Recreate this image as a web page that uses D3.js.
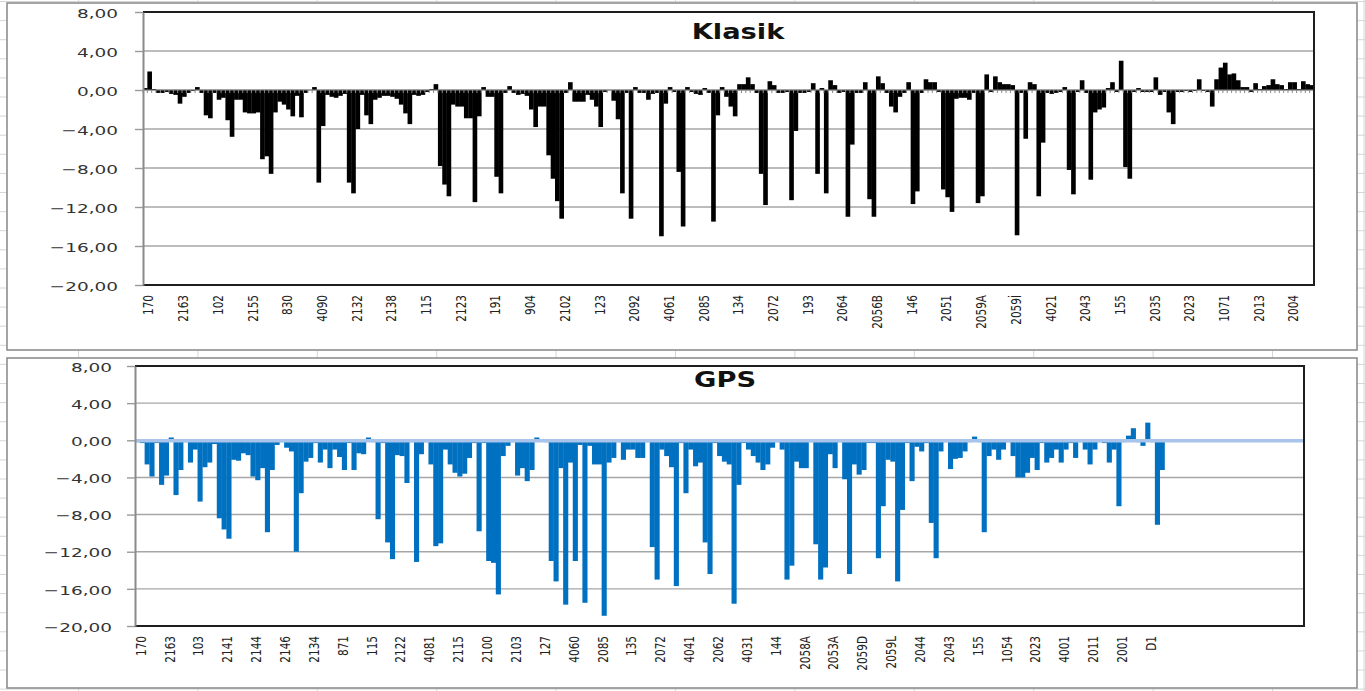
<!DOCTYPE html>
<head>
  <title>Klasik / GPS</title>
  <meta charset="utf-8">
  <script src="https://d3js.org/d3.v7.min.js"></script>
  <style>
    body { margin: 0; background: #fff; }
    svg { display: block; font-family: "DejaVu Sans", Verdana, sans-serif; }
    .sheet { stroke: #d6d6d6; stroke-width: 1; }
    .chartarea { fill: #fff; stroke: #8e8e8e; stroke-width: 1.6; }
    .grid { stroke: #a6a6a6; stroke-width: 1.4; }
    .frame { stroke: #1e1e1e; stroke-width: 2; }
    .ylab { font-size: 13px; fill: #333; }
    .xlab { font-size: 10.5px; fill: #222; }
    .title { font-size: 21px; font-weight: bold; fill: #111; }
  </style>
</head>
<body>

<svg width="1365" height="691"></svg>

<script>

// Klasik series, one value per station (270 stations)
var klasikValues = [
  0.2, 1.9, 0.1, -0.3, -0.3, -0.2, -0.4, -0.5, -1.4, -0.7,
  -0.3, -0.1, 0.3, -0.3, -2.6, -2.9, -0.3, -1.0, -0.8, -3.1,
  -4.8, -1.0, -1.0, -2.3, -2.4, -2.4, -2.3, -7.1, -6.8, -8.6,
  -2.3, -1.2, -1.5, -2.0, -2.7, -0.6, -2.8, -0.3, 0.0, 0.3,
  -9.5, -3.7, -0.5, -0.7, -0.8, -0.6, -0.4, -9.5, -10.6, -4.0,
  -0.5, -2.6, -3.5, -1.0, -0.8, -0.6, -0.6, -0.7, -0.9, -1.5,
  -2.4, -3.5, -0.5, -0.6, -0.5, -0.2, 0.1, 0.6, -7.8, -9.7,
  -10.9, -1.5, -1.7, -1.7, -2.9, -2.9, -11.5, -2.7, 0.3, -0.7,
  -0.7, -8.9, -10.6, -0.3, 0.4, -0.3, -0.5, -0.4, -0.6, -2.0,
  -3.8, -1.7, -1.7, -6.7, -9.1, -11.4, -13.2, -0.3, 0.8, -1.2,
  -1.2, -1.2, -0.5, -1.0, -1.7, -3.8, -0.2, 0.0, -1.1, -3.0,
  -10.6, -0.3, -13.2, 0.3, -0.3, -0.3, -1.0, -0.4, -0.3, -15.0,
  -1.4, 0.3, -0.2, -8.4, -14.0, 0.3, -0.2, -0.4, -0.5, 0.2,
  -0.3, -13.5, -2.6, 0.3, -0.7, -1.7, -2.7, 0.6, 0.6, 1.3,
  0.6, -0.3, -8.6, -11.8, 0.9, 0.5, -0.3, -0.3, -0.2, -11.3,
  -4.2, -0.3, -0.3, -0.2, 0.7, -8.6, 0.2, -10.6, 1.0, 0.5,
  -0.3, -0.2, -13.0, -5.6, -0.3, -0.3, 0.8, -11.2, -13.0, 1.4,
  0.7, -0.3, -1.7, -2.3, -0.7, -0.3, 0.8, -11.7, -10.4, -0.3,
  1.1, 0.8, 0.8, -0.2, -10.2, -11.0, -12.5, -0.9, -0.8, -0.8,
  -1.0, -0.3, -11.6, -10.9, 1.6, -0.2, 1.4, 0.8, 0.6, 0.6,
  0.5, -14.9, -0.3, -5.0, 0.8, 0.6, -10.9, -5.4, -0.3, -0.4,
  -0.3, -0.2, 0.3, -8.2, -10.7, -0.2, 1.0, -0.3, -9.2, -2.3,
  -2.0, -1.8, 0.2, 0.8, -0.2, 3.0, -7.9, -9.1, -0.2, 0.2,
  -0.2, -0.2, -0.2, 1.3, -0.5, -0.2, -2.3, -3.5, -0.2, -0.2,
  -0.1, -0.2, -0.1, 1.1, -0.1, -0.2, -1.7, 1.1, 2.3, 2.8,
  1.6, 1.7, 1.0, 0.3, 0.3, -0.2, 0.7, 0.1, 0.4, 0.5,
  1.1, 0.6, 0.5, 0.1, 0.8, 0.8, 0.1, 0.9, 0.6, 0.5
];

// GPS series (243 categories, the last ones are empty)
var gpsValues = [
  -0.2, -0.3, -2.6, -3.9, -0.3, -4.8, -3.8, 0.3, -5.9, -3.2,
  -0.2, -2.4, -1.0, -6.6, -2.9, -2.4, -0.4, -8.4, -9.6, -10.6,
  -2.1, -2.2, -1.4, -1.6, -3.9, -4.3, -3.0, -9.9, -3.2, -0.5,
  -0.2, -0.8, -1.2, -12.0, -5.7, -2.3, -1.9, -0.3, -2.4, -1.0,
  -3.0, -1.0, -1.8, -3.2, -0.3, -3.2, -1.4, -1.5, 0.3, -0.2,
  -8.5, -0.3, -11.0, -12.8, -1.6, -1.7, -4.6, -0.2, -13.1, -1.5,
  -0.2, -2.6, -11.4, -11.1, -1.0, -2.6, -3.5, -3.9, -3.6, -1.9,
  -0.3, -9.8, -0.3, -13.0, -13.2, -16.6, -1.7, -0.6, -0.2, -3.8,
  -3.0, -4.4, -3.2, 0.3, -0.1, -0.2, -13.0, -15.2, -3.0, -17.7,
  -2.4, -13.0, -0.5, -17.5, -0.6, -2.6, -2.6, -18.9, -2.4, -1.9,
  -0.2, -2.1, -1.0, -1.0, -1.9, -1.9, -0.2, -11.5, -15.0, -1.0,
  -1.7, -2.9, -15.7, -0.3, -5.7, -1.0, -2.8, -2.4, -11.0, -14.4,
  -0.3, -1.7, -2.3, -2.6, -17.6, -4.8, -0.3, -1.0, -1.7, -2.4,
  -3.2, -2.6, -0.8, -0.2, -1.0, -15.0, -13.5, -2.3, -3.0, -3.0,
  -0.2, -11.2, -15.0, -13.7, -1.5, -3.0, -0.2, -4.2, -14.4, -2.6,
  -3.7, -3.2, -0.3, -0.3, -12.7, -7.1, -2.1, -2.3, -15.2, -7.5,
  -0.3, -4.4, -0.7, -1.2, -0.3, -8.9, -12.7, -1.2, -0.2, -3.1,
  -2.0, -1.9, -1.2, -0.2, 0.4, -0.2, -9.9, -1.7, -1.0, -2.1,
  -1.0, -0.2, -1.7, -4.0, -4.0, -3.5, -1.9, -3.2, -0.3, -2.4,
  -1.9, -1.0, -2.4, -1.0, -0.3, -1.9, -0.2, -1.0, -2.6, -1.0,
  -0.2, -0.3, -2.4, -1.0, -7.1, -0.2, 0.5, 1.3, -0.2, -0.6,
  1.9, -0.2, -9.1, -3.2,
  null, null, null, null, null, null, null, null, null, null,
  null, null, null, null, null, null, null, null, null, null,
  null, null, null, null, null, null, null, null, null
];

// station names shown under each axis (every 8th / 6th category)
var klasikLabels = ['170', '2163', '102', '2155', '830', '4090', '2132', '2138', '115', '2123',
  '191', '904', '2102', '123', '2092', '4061', '2085', '134', '2072', '193',
  '2064', '2056B', '146', '2051', '2059A', '2059İ', '4021', '2043', '155', '2035',
  '2023', '1071', '2013', '2004'];

var gpsLabels = ['170', '2163', '103', '2141', '2144', '2146', '2134', '871', '115', '2122',
  '4081', '2115', '2100', '2103', '127', '4060', '2085', '135', '2072', '4041',
  '2062', '4031', '144', '2058A', '2053A', '2059D', '2059L', '2044', '2043', '155',
  '1054', '2023', '4001', '2011', '2001', 'D1'];

var yTicks = [8, 4, 0, -4, -8, -12, -16, -20];

var svg = d3.select('svg');

// worksheet cells behind the chart objects
svg.selectAll('.col').data(d3.range(78.5, 1365, 119.4)).enter().append('line')
  .attr('class', 'sheet').attr('x1', function(d) { return d; }).attr('x2', function(d) { return d; })
  .attr('y1', 0).attr('y2', 691);
svg.append('line').attr('class', 'sheet').attr('x1', 1364).attr('x2', 1364).attr('y1', 0).attr('y2', 691);
svg.selectAll('.row').data(d3.range(1.5, 691, 19.1)).enter().append('line')
  .attr('class', 'sheet').attr('y1', function(d) { return d; }).attr('y2', function(d) { return d; })
  .attr('x1', 0).attr('x2', 1365);

var fmt = function(d) { return d3.format('.2f')(d).replace('.', ','); };

var panels = [
  { title: 'Klasik', values: klasikValues, labels: klasikLabels, every: 8, color: '#000',
    area: [7, 3, 1350, 347], plot: { l: 143, r: 1314, t: 12, b: 285 },
    labRight: 118, titleX: 738, titleY: 39, band: false },
  { title: 'GPS', values: gpsValues, labels: gpsLabels, every: 6, color: '#0070c0',
    area: [7, 358, 1350, 330], plot: { l: 135, r: 1304, t: 366, b: 626 },
    labRight: 112, titleX: 725, titleY: 387, band: true }
];

panels.forEach(function(p) {
  var g = svg.append('g');
  var n = p.values.length;

  var x = d3.scaleBand().domain(d3.range(n)).range([p.plot.l, p.plot.r]).padding(0);
  var y = d3.scaleLinear().domain([-20, 8]).range([p.plot.b, p.plot.t]);

  g.append('rect').attr('class', 'chartarea')
    .attr('x', p.area[0]).attr('y', p.area[1]).attr('width', p.area[2]).attr('height', p.area[3]);

  // horizontal gridlines
  g.selectAll('.grid').data(yTicks.slice(1, -1)).enter().append('line')
    .attr('class', 'grid')
    .attr('x1', p.plot.l).attr('x2', p.plot.r)
    .attr('y1', function(d) { return y(d); }).attr('y2', function(d) { return y(d); });

  // title sits inside the plot, drawn before bars like excel does
  g.append('text').attr('class', 'title')
    .attr('transform', 'translate(' + p.titleX + ',' + p.titleY + ') scale(1.3,1)')
    .attr('text-anchor', 'middle')
    .text(p.title);

  // bars
  var rows = p.values.map(function(v, i) { return { i: i, v: v }; })
    .filter(function(d) { return d.v !== null; });

  g.selectAll('.bar').data(rows).enter().append('rect')
    .attr('x', function(d) { return x(d.i); })
    .attr('width', x.bandwidth() + 0.3)
    .attr('y', function(d) { return y(Math.max(0, d.v)); })
    .attr('height', function(d) { return Math.abs(y(d.v) - y(0)); })
    .attr('fill', p.color);

  // category axis through zero
  if (p.band) {
    g.append('line')
      .attr('x1', p.plot.l).attr('x2', p.plot.r)
      .attr('y1', y(0) + 0.5).attr('y2', y(0) + 0.5)
      .attr('stroke', '#a9c4ea').attr('stroke-width', 3.5);
  } else {
    g.append('line')
      .attr('x1', p.plot.l).attr('x2', p.plot.r)
      .attr('y1', y(0)).attr('y2', y(0))
      .attr('stroke', '#8a8a8a').attr('stroke-width', 1);
    g.selectAll('.ctick').data(d3.range(n)).enter().append('line')
      .attr('x1', function(d) { return x(d); }).attr('x2', function(d) { return x(d); })
      .attr('y1', y(0)).attr('y2', y(0) + 3)
      .attr('stroke', '#8a8a8a').attr('stroke-width', 1);
  }

  // plot frame: dark top, right and bottom, grey value axis on the left
  g.append('line').attr('class', 'frame')
    .attr('x1', p.plot.l).attr('x2', p.plot.r + 1).attr('y1', p.plot.t).attr('y2', p.plot.t);
  g.append('line').attr('class', 'frame')
    .attr('x1', p.plot.r).attr('x2', p.plot.r).attr('y1', p.plot.t).attr('y2', p.plot.b);
  g.append('line').attr('class', 'frame')
    .attr('x1', p.plot.l).attr('x2', p.plot.r + 1).attr('y1', p.plot.b).attr('y2', p.plot.b);

  var yAxis = g.append('g')
    .attr('transform', 'translate(' + p.plot.l + ',0)')
    .call(d3.axisLeft(y).tickValues(yTicks).tickSize(8).tickSizeOuter(0).tickFormat(''));
  yAxis.select('.domain').attr('stroke', '#8a8a8a').attr('stroke-width', 2);
  yAxis.selectAll('.tick line').attr('stroke', '#9a9a9a').attr('stroke-width', 1.4);

  g.selectAll('.ylab').data(yTicks).enter().append('text')
    .attr('class', 'ylab')
    .attr('transform', function(d) { return 'translate(' + p.labRight + ',' + (y(d) + 1) + ') scale(1.42,1)'; })
    .attr('text-anchor', 'end')
    .attr('dy', '0.36em')
    .text(fmt);

  // station labels, vertical, every n-th category
  g.selectAll('.xlab').data(p.labels).enter().append('text')
    .attr('class', 'xlab')
    .attr('transform', function(d, k) {
      var cx = x(k * p.every) + x.bandwidth() / 2 + 3.5;
      return 'translate(' + cx + ',' + (p.plot.b + 10) + ') scale(1.3,1) rotate(-90)';
    })
    .attr('text-anchor', 'end')
    .attr('dy', '0.35em')
    .text(function(d) { return d; });
});

</script>

</body>
